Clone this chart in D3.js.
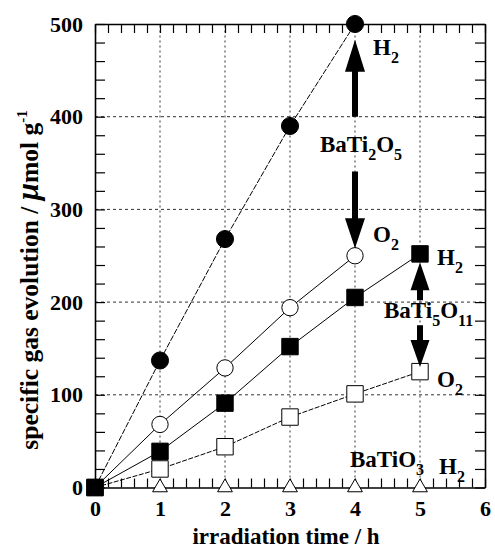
<!DOCTYPE html>
<html><head><meta charset="utf-8">
<script src="https://cdn.jsdelivr.net/npm/d3@7"></script>
<style>body{margin:0;background:#fff}svg{display:block}text{font-family:"Liberation Serif","Times New Roman",serif;font-weight:bold;fill:#000}</style>
</head><body><svg id="c" width="495" height="548"></svg>
<script>
const times = [0, 1, 2, 3, 4, 5];
const xTicks = [0, 1, 2, 3, 4, 5, 6];
const yTicks = [0, 100, 200, 300, 400, 500];
const ti2o5H2 = [0, 137, 268, 390, 500];
const ti2o5O2 = [0, 68, 129, 194, 250];
const ti5o11H2 = [0, 39, 91, 152, 205, 252];
const ti5o11O2 = [0, 20, 44, 76, 101, 125];
const tio3H2 = [0, 0, 0, 0, 0, 0];

const svg = d3.select("#c");
const x = d3.scaleLinear().domain([0, 6]).range([95, 485]);
const y = d3.scaleLinear().domain([0, 500]).range([487.5, 24]);

// grid
const g = svg.append("g");
g.selectAll(".gx").data([1,2,3,4,5]).join("line")
  .attr("x1", d=>x(d)).attr("x2", d=>x(d)).attr("y1", y(0)).attr("y2", y(500))
  .attr("stroke", "#333").attr("stroke-width", 1).attr("stroke-dasharray", "2,3");
g.selectAll(".gy").data([100,200,300,400]).join("line")
  .attr("y1", d=>y(d)).attr("y2", d=>y(d)).attr("x1", x(0)).attr("x2", x(6))
  .attr("stroke", "#333").attr("stroke-width", 1).attr("stroke-dasharray", "3,3");

// axes (minor ticks inward)
const xMinor = d3.range(0, 6.0001, 0.2);
const yMinor = d3.range(0, 500.001, 20);
function styleAxis(sel){ sel.select(".domain").attr("stroke","#000").attr("stroke-width",1.6);
  sel.selectAll(".tick line").attr("stroke","#000").attr("stroke-width",1.2); sel.selectAll("text").remove(); }
svg.append("g").attr("transform",`translate(0,${y(0)})`)
  .call(d3.axisBottom(x).tickValues(xMinor).tickSize(-9).tickSizeOuter(0)).call(styleAxis);
svg.append("g").attr("transform",`translate(0,${y(500)})`)
  .call(d3.axisTop(x).tickValues(xMinor).tickSize(-9).tickSizeOuter(0)).call(styleAxis);
svg.append("g").attr("transform",`translate(${x(0)},0)`)
  .call(d3.axisLeft(y).tickValues(yMinor).tickSize(-10).tickSizeOuter(0)).call(styleAxis);
svg.append("g").attr("transform",`translate(${x(6)},0)`)
  .call(d3.axisRight(y).tickValues(yMinor).tickSize(-10).tickSizeOuter(0)).call(styleAxis);

// tick labels via axes
const xl = svg.append("g").attr("transform",`translate(0,${y(0)})`)
  .call(d3.axisBottom(x).tickValues(xTicks).tickSize(0).tickPadding(13).tickFormat(d3.format("d")));
xl.select(".domain").remove();
xl.selectAll("text").attr("font-size", 22).attr("font-family","Liberation Serif").attr("font-weight","bold").attr("fill","#000");
const yl = svg.append("g").attr("transform",`translate(${x(0)},0)`)
  .call(d3.axisLeft(y).tickValues(yTicks).tickSize(0).tickPadding(12).tickFormat(d3.format("d")));
yl.select(".domain").remove();
yl.selectAll("text").attr("font-size", 22).attr("font-family","Liberation Serif").attr("font-weight","bold").attr("fill","#000");

// axis titles
svg.append("text").attr("x", 286).attr("y", 544).attr("text-anchor","middle").attr("font-size", 23)
  .text("irradiation time / h");
const yt = svg.append("text").attr("transform","translate(38,280) rotate(-90)").attr("text-anchor","middle").attr("font-size",25.5);
yt.append("tspan").text("specific gas evolution / ");
yt.append("tspan").attr("font-style","italic").attr("font-size",31).text("μ");
yt.append("tspan").text("mol g");
yt.append("tspan").attr("font-size",15).attr("dy",-11).text("-1");

// lines
function series(vals, dash){
  const pts = vals.map((v,i)=>[times[i], v]);
  svg.append("path").datum(pts)
    .attr("d", d3.line().x(d=>x(d[0])).y(d=>y(d[1])))
    .attr("fill","none").attr("stroke","#000").attr("stroke-width",1)
    .attr("stroke-dasharray", dash || null);
  return pts;
}
const p1 = series(ti2o5H2, "6,1.5");
const p2 = series(ti2o5O2, null);
const p3 = series(ti5o11H2, null);
const p4 = series(ti5o11O2, "5,1.5");
const p5 = tio3H2.map((v,i)=>[times[i], v]);

function marks(pts, type, size, filled){
  svg.append("g").selectAll("path").data(pts).join("path")
    .attr("transform", d=>`translate(${x(d[0])},${y(d[1])})`)
    .attr("d", d3.symbol().type(type).size(size))
    .attr("fill", filled ? "#000" : "#fff").attr("stroke","#000").attr("stroke-width",1);
}
marks(p5.slice(1), d3.symbolTriangle, 95, false);
marks(p4, d3.symbolSquare, 270, false);
marks(p3, d3.symbolSquare, 270, true);
marks(p2.slice(1), d3.symbolCircle, 210, false);
marks(p1.slice(1), d3.symbolCircle, 230, true);

// arrows
function arrow(xv, y0, y1, headLen, headW, shaftW){
  const X = x(xv), Y0 = y(y0), Y1 = y(y1);
  const dir = Y1 < Y0 ? -1 : 1;
  const hb = Y1 - dir*headLen;
  svg.append("path").attr("d",
    `M${X-shaftW/2},${Y0} L${X+shaftW/2},${Y0} L${X+shaftW/2},${hb} L${X+headW/2},${hb} L${X},${Y1} L${X-headW/2},${hb} L${X-shaftW/2},${hb} Z`)
    .attr("fill","#000");
}
arrow(4, 400, 483, 32, 20, 6);
arrow(4, 341, 258, 30, 20, 6);
arrow(5, 202, 243, 28, 19, 6);
arrow(5, 175, 130, 27, 19, 6);

// labels: strings are normal text, {s} are subscripts
function label(px, py, parts){
  const t = svg.append("text").attr("x", px).attr("y", py).attr("font-size", 23);
  let sub = false;
  parts.forEach(p=>{
    if (typeof p === "string") { t.append("tspan").attr("dy", sub ? -8 : 0).text(p); sub = false; }
    else { t.append("tspan").attr("font-size", 16).attr("dy", sub ? 0 : 8).text(p.s); sub = true; }
  });
}
label(373, 55, ["H", {s:"2"}]);
label(373, 242, ["O", {s:"2"}]);
label(437, 265, ["H", {s:"2"}]);
label(437, 387, ["O", {s:"2"}]);
label(439, 474, ["H", {s:"2"}]);
label(320, 152, ["BaTi", {s:"2"}, "O", {s:"5"}]);
label(384, 318, ["BaTi", {s:"5"}, "O", {s:"11"}]);
label(350, 467, ["BaTiO", {s:"3"}]);
</script></body></html>
